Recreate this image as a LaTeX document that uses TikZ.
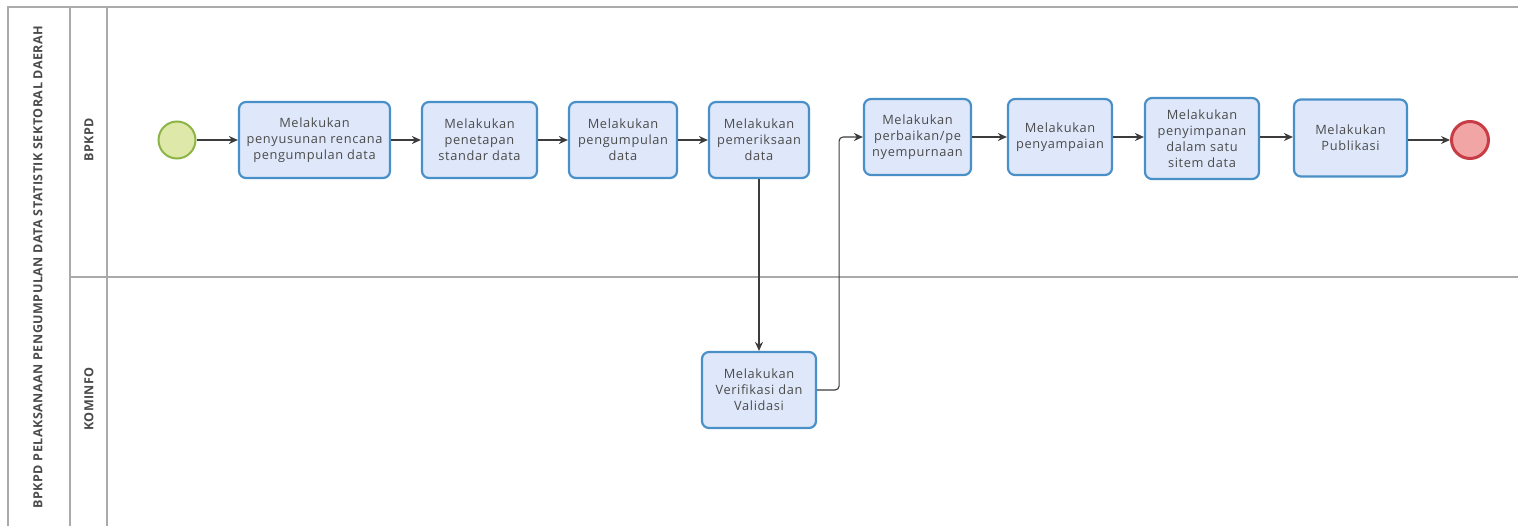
\documentclass[tikz,border=0pt]{standalone}
\usepackage{fontspec}
\setmainfont{Open Sans}
\newfontfamily\taskfont[LetterSpace=5]{Open Sans}
\newfontfamily\lblfont[LetterSpace=4]{Open Sans}
\usetikzlibrary{arrows.meta}
\definecolor{taskfill}{RGB}{222,232,250}
\definecolor{taskborder}{RGB}{74,144,200}
\definecolor{textgray}{RGB}{75,75,75}
\definecolor{startfill}{RGB}{222,232,168}
\definecolor{startborder}{RGB}{140,180,70}
\definecolor{endfill}{RGB}{242,165,165}
\definecolor{endborder}{RGB}{200,60,70}
\definecolor{laneline}{RGB}{170,170,170}
\definecolor{flowline}{RGB}{60,60,60}
\tikzset{
  task/.style={draw=taskborder, line width=2.2pt, fill=taskfill, rounded corners=7pt,
    align=center, font=\taskfont\fontsize{12.8}{16}\selectfont, text=textgray, inner sep=0pt},
  startev/.style={circle, draw=startborder, line width=2pt, fill=startfill, minimum size=37pt, inner sep=0pt},
  endev/.style={circle, draw=endborder, line width=3pt, fill=endfill, minimum size=37pt, inner sep=0pt},
  flow/.style={draw=flowline, line width=1.1pt, -{Stealth[length=9pt,width=8pt]}},
  lanelbl/.style={rotate=90, font=\lblfont\fontsize{12.5}{14}\selectfont\bfseries, text=textgray},
  frame/.style={draw=laneline, line width=1.3pt}
}
\begin{document}
\begin{tikzpicture}[x=1pt,y=-1pt]
\useasboundingbox (0,0) rectangle (1518,525);
\fill[white] (0,0) rectangle (1518,525);
% pool frame
\draw[frame] (8,530) -- (8,7) -- (1530,7);
\draw[frame] (70,7) -- (70,530);
\draw[frame] (107,7) -- (107,530);
\draw[frame] (70,277) -- (1530,277);
% labels
\node[lanelbl] (pool) at (38,267) {BPKPD PELAKSANAAN PENGUMPULAN DATA STATISTIK SEKTORAL DAERAH};
\node[lanelbl] (lane1) at (89,140) {BPKPD};
\node[lanelbl] (lane2) at (89,399) {KOMINFO};
% events
\node[startev] (start) at (177,140) {};
\node[endev] (end) at (1470,140) {};
% tasks
\node[task, minimum width=151pt, minimum height=76pt] (t1) at (314.5,140) {Melakukan\\penyusunan rencana\\pengumpulan data};
\node[task, minimum width=115pt, minimum height=76pt] (t2) at (479.5,140) {Melakukan\\penetapan\\standar data};
\node[task, minimum width=108pt, minimum height=76pt] (t3) at (623,140) {Melakukan\\pengumpulan\\data};
\node[task, minimum width=100pt, minimum height=76pt] (t4) at (759,140) {Melakukan\\pemeriksaan\\data};
\node[task, minimum width=107pt, minimum height=76pt] (t5) at (917.5,137) {Melakukan\\perbaikan/pe\\nyempurnaan};
\node[task, minimum width=104pt, minimum height=76pt] (t6) at (1060,137) {Melakukan\\penyampaian};
\node[task, minimum width=114pt, minimum height=81pt] (t7) at (1202,138.5) {Melakukan\\penyimpanan\\dalam satu\\sitem data};
\node[task, minimum width=113pt, minimum height=77pt] (t8) at (1350.5,138) {Melakukan\\Publikasi};
\node[task, minimum width=114pt, minimum height=76pt] (v) at (759,390) {Melakukan\\Verifikasi dan\\Validasi};
% flows
\draw[flow] (start) -- (t1.west |- start);
\draw[flow] (t1.east) -- (t2.west);
\draw[flow] (t2.east) -- (t3.west);
\draw[flow] (t3.east) -- (t4.west);
\draw[flow] (t5.east) -- (t6.west);
\draw[flow] (t6.east) -- (t6.east -| t7.west);
\draw[flow] (t7.east |- t6.east) -- (t6.east -| t8.west);
\draw[flow] (t8.east |- end) -- (end);
\draw[flow] (t4.south) -- (v.north);
\draw[flow, rounded corners=4pt] (v.east) -- ++(22,0) |- (t5.west);
\end{tikzpicture}
\end{document}
